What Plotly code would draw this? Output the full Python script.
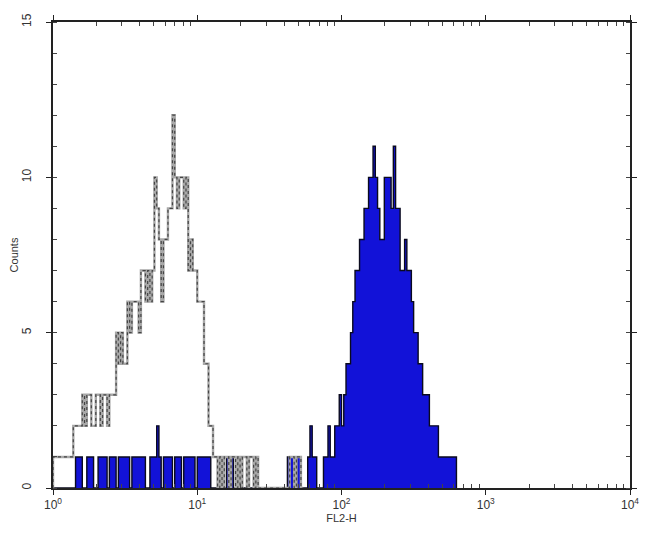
import plotly.graph_objects as go

N_CHANNELS = 256
N_DECADES = 4

# Isotype control (grey outline) counts per channel, starting at channel 0
grey_counts = (
    [1] * 9 +
    [2, 2, 2, 2] +
    [3, 2, 3, 3, 2, 2, 3, 3, 2, 3, 3, 2, 3, 3, 3] +
    [5, 4, 5, 4, 4] +
    [6, 5, 6, 6, 6, 5] +
    [7, 7, 6, 7, 6, 7] +
    [10, 9, 8, 6, 8, 8, 9, 9, 12, 10, 9, 10, 10, 9, 10] +
    [7, 8, 7, 7, 6, 6, 6, 4, 4, 2, 2, 1, 1, 0] +
    [1, 0, 1, 1, 0, 1, 1, 0, 1, 0, 1, 1, 0, 1, 1, 0, 1, 0] +
    [0] * 13 +
    [1, 1, 0, 1, 1, 0]
)

# Stained sample (blue filled) counts per channel, starting at channel 0
blue_counts = (
    [0] * 10 +
    [1, 1, 1, 0, 0, 1, 1, 1, 0, 0, 1, 1, 1, 1, 0, 1, 1, 1, 0] +        # c10-28
    [1, 1, 1, 1, 1, 0, 1, 1, 1, 1, 1, 1, 0, 0] +                        # c29-42
    [1, 1, 1, 2, 1, 0, 1, 1, 1, 1, 0, 1, 1, 1, 0, 1, 1, 1, 1, 1, 0] +   # c43-63
    [1, 1, 1, 1, 1, 1, 0, 0, 0, 0, 0, 0, 0, 1, 1, 1] +                  # c64-79
    [0] * 24 +                                                          # c80-103
    [1, 1, 1, 0, 1, 1, 0, 0, 0, 1, 2, 1, 1, 0, 0] +                     # c104-118
    [0, 1, 1, 2, 1, 1] +                                                # c119-124
    [2, 2, 3, 2, 3, 4, 4, 5, 6, 7, 7, 8, 8, 9, 9, 10, 10, 11, 10, 9] +  # c125-144
    [8, 8, 10, 10, 10, 9, 11, 9, 9, 7, 7, 8, 7, 7, 6] +                 # c145-159
    [5, 5, 4, 4, 3, 3, 3, 2, 2, 2, 2] +                                 # c160-170
    [1] * 8                                                             # c171-178
)

x_tick_vals = [1, 10, 100, 1000, 10000]
x_tick_text = ["10<sup>0</sup>", "10<sup>1</sup>", "10<sup>2</sup>",
               "10<sup>3</sup>", "10<sup>4</sup>"]
x_minor_vals = [m * 10 ** d for d in range(4) for m in range(2, 10)]
y_tick_vals = [0, 5, 10, 15]
x_title = "FL2-H"
y_title = "Counts"


def step_xy(counts):
    n = len(counts)
    edges = [10 ** (N_DECADES * i / N_CHANNELS) for i in range(n + 1)]
    xs = [edges[0]] + edges
    ys = [0] + list(counts) + [0]
    return xs, ys


bx, by = step_xy(blue_counts)
gx, gy = step_xy(grey_counts)

fig = go.Figure()
fig.add_trace(go.Scatter(
    x=bx, y=by, mode="lines", line_shape="hv",
    fill="tozeroy", fillcolor="#1212d8",
    line=dict(color="#0a0a1e", width=1.4),
    hoverinfo="skip", showlegend=False,
))
fig.add_trace(go.Scatter(
    x=gx, y=gy, mode="lines", line_shape="hv",
    line=dict(color="#a8a8a8", width=2.4),
    hoverinfo="skip", showlegend=False,
))
fig.add_trace(go.Scatter(
    x=gx, y=gy, mode="lines", line_shape="hv",
    line=dict(color="#444444", width=1.2, dash="dot"),
    hoverinfo="skip", showlegend=False,
))

font = dict(family="Liberation Sans, Arial, sans-serif", size=12, color="#333333")

# The page body adds an 8px offset; the figure is sized to fill the rest.
fig.update_layout(
    width=642, height=532,
    margin=dict(l=45, r=20, t=14, b=52, autoexpand=False),
    paper_bgcolor="white", plot_bgcolor="white",
    font=font,
    xaxis=dict(
        type="log", range=[0, 4], automargin=False,
        tickvals=x_tick_vals, ticktext=x_tick_text,
        showgrid=False, zeroline=False,
        showline=True, linecolor="#222222", linewidth=1.5, mirror="allticks",
        ticks="outside", ticklen=5, tickcolor="#222222",
        minor=dict(tickmode="array", tickvals=x_minor_vals, ticks="inside",
                   ticklen=4, tickcolor="#444444", showgrid=False),
        title=dict(text=x_title, standoff=3, font=dict(size=11)),
    ),
    yaxis=dict(
        range=[0, 15], automargin=False,
        tickvals=y_tick_vals, tickangle=-90,
        showgrid=False, zeroline=False,
        showline=True, linecolor="#222222", linewidth=1.5, mirror="allticks",
        ticks="outside", ticklen=5, tickcolor="#222222",
        ticklabelstandoff=10,
        minor=dict(dtick=1, ticks="inside", ticklen=4, tickcolor="#444444", showgrid=False),
        title=dict(text=y_title, standoff=5, font=dict(size=11)),
    ),
)

fig.write_html("out.html")
